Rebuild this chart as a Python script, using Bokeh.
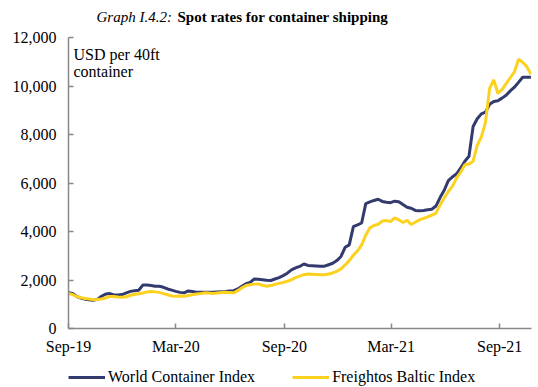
import datetime as dt
from bokeh.plotting import figure
from bokeh.layouts import column
from bokeh.models import (FixedTicker, Label, Legend, LegendItem, Range1d,
                          NumeralTickFormatter, DatetimeTickFormatter, ColumnDataSource)
from bokeh.embed import file_html
from bokeh.resources import INLINE

# ---- data (weekly) ----
start_date = dt.datetime(2019, 9, 1)

wci = [1480, 1440, 1320, 1250, 1210, 1180, 1160, 1200, 1330, 1420,
       1440, 1380, 1380, 1400, 1470, 1530, 1560, 1580, 1790, 1790,
       1770, 1740, 1740, 1700, 1630, 1580, 1530, 1490, 1470, 1550,
       1530, 1500, 1500, 1490, 1490, 1500, 1510, 1520, 1530, 1550,
       1560, 1630, 1740, 1850, 1900, 2040, 2030, 2010, 1990, 1980,
       2040, 2100, 2180, 2280, 2420, 2500, 2560, 2660, 2600, 2590,
       2580, 2570, 2570, 2630, 2690, 2800, 2970, 3350, 3450, 4200,
       4270, 4350, 5150, 5220, 5280, 5330, 5240, 5210, 5190, 5250,
       5230, 5110, 5000, 4960, 4870, 4860, 4870, 4900, 4920, 5050,
       5400, 5700, 6100, 6250, 6380, 6620, 6900, 7100, 8330, 8650,
       8850, 8920, 9250, 9360, 9390, 9500, 9620, 9800, 9950, 10150,
       10360, 10360, 10360]

fbx = [1440, 1400, 1320, 1270, 1240, 1220, 1190, 1200, 1220, 1260,
       1320, 1320, 1300, 1290, 1310, 1370, 1400, 1430, 1460, 1510,
       1530, 1510, 1490, 1440, 1390, 1340, 1330, 1340, 1330, 1360,
       1390, 1420, 1440, 1470, 1460, 1440, 1460, 1480, 1490, 1480,
       1470, 1560, 1680, 1770, 1800, 1830, 1840, 1780, 1740, 1770,
       1820, 1860, 1900, 1950, 2010, 2100, 2160, 2220, 2250, 2240,
       2230, 2220, 2220, 2250, 2290, 2360, 2460, 2620, 2800, 3020,
       3200, 3450, 3850, 4150, 4250, 4300, 4430, 4450, 4410, 4560,
       4480, 4370, 4460, 4290, 4380, 4480, 4540, 4600, 4670, 4760,
       5100, 5380, 5650, 5870, 6200, 6450, 6750, 6780, 6900, 7550,
       7900, 8500, 9900, 10250, 9700, 9850, 10100, 10340, 10580, 11100,
       10980, 10800, 10480]

dates = [start_date + dt.timedelta(weeks=i) for i in range(len(wci))]

tick_dates = [dt.datetime(2019, 9, 1), dt.datetime(2020, 3, 1), dt.datetime(2020, 9, 1),
              dt.datetime(2021, 3, 1), dt.datetime(2021, 9, 1)]
y_ticks = [0, 2000, 4000, 6000, 8000, 10000, 12000]

series_names = ["World Container Index", "Freightos Baltic Index"]
series_colors = ["#333b6e", "#fdd21f"]
title_italic = "Graph I.4.2:"
title_bold = "Spot rates for container shipping"
unit_lines = ["USD per 40ft", "container"]

FONT = "Liberation Serif"
W = 536


def ms(d):
    return (d - dt.datetime(1970, 1, 1)).total_seconds() * 1000.0


def blank_strip(height):
    f = figure(width=W, height=height, output_backend="svg", toolbar_location=None,
               x_axis_location=None, y_axis_location=None,
               min_border_left=0, min_border_right=0,
               min_border_top=0, min_border_bottom=0)
    f.x_range = Range1d(0, 1)
    f.y_range = Range1d(0, 1)
    f.outline_line_color = None
    f.xgrid.visible = False
    f.ygrid.visible = False
    return f


# ---- title strip (its frame is aligned with the main frame, left edge at x=68) ----
t = blank_strip(28)
t.add_layout(Label(x=28, y=12, x_units="screen", y_units="screen",
                   text=title_italic, text_font=FONT, text_font_size="15px",
                   text_font_style="italic", text_baseline="middle", text_color="black"))
t.add_layout(Label(x=109, y=12, x_units="screen", y_units="screen",
                   text=title_bold, text_font=FONT, text_font_size="15px",
                   text_font_style="bold", text_baseline="middle", text_color="black"))

# ---- main chart ----
src = ColumnDataSource(dict(date=dates, wci=wci, fbx=fbx))

p = figure(width=W, height=329, x_axis_type="datetime",
           output_backend="svg", toolbar_location=None,
           min_border_left=68, min_border_right=5,
           min_border_top=9, min_border_bottom=28)
p.x_range = Range1d(dt.datetime(2019, 9, 1), dt.datetime(2021, 10, 25))
p.y_range = Range1d(0, 12000)
p.outline_line_color = None
p.xgrid.visible = False
p.ygrid.visible = False

p.line("date", "wci", source=src, line_color=series_colors[0], line_width=3)
p.line("date", "fbx", source=src, line_color=series_colors[1], line_width=3)

for ax in (p.xaxis[0], p.yaxis[0]):
    ax.axis_line_color = "#888888"
    ax.axis_line_width = 1.5
    ax.major_tick_line_color = "#888888"
    ax.major_tick_line_width = 1.5
    ax.major_tick_in = 5
    ax.major_tick_out = 0
    ax.minor_tick_line_color = None
    ax.major_label_text_font = FONT
    ax.major_label_text_font_size = "16px"
    ax.major_label_text_color = "black"

p.xaxis[0].ticker = FixedTicker(ticks=[ms(d) for d in tick_dates])
fmt = "%b-%y"
p.xaxis[0].formatter = DatetimeTickFormatter(
    years=fmt, months=fmt, days=fmt, hours=fmt, minutes=fmt, seconds=fmt,
    milliseconds=fmt, microseconds=fmt, hourmin=fmt, minsec=fmt)
p.xaxis[0].major_label_standoff = 9

p.yaxis[0].ticker = FixedTicker(ticks=y_ticks)
p.yaxis[0].formatter = NumeralTickFormatter(format="0,0")
p.yaxis[0].major_label_standoff = 12

p.add_layout(Label(x=5, y=274, x_units="screen", y_units="screen",
                   text=unit_lines[0], text_font=FONT, text_font_size="16px",
                   text_baseline="middle", text_color="black"))
p.add_layout(Label(x=5, y=257, x_units="screen", y_units="screen",
                   text=unit_lines[1], text_font=FONT, text_font_size="16px",
                   text_baseline="middle", text_color="black"))

# ---- legend strip (legend-only renderers hold no drawable points) ----
lg = blank_strip(30)
items = []
for name, col in zip(series_names, series_colors):
    r = lg.line(x=[float("nan")], y=[float("nan")], line_color=col, line_width=3)
    items.append(LegendItem(label=name, renderers=[r]))
legend = Legend(items=items, orientation="horizontal", location=(0, 1),
                padding=0, margin=0, spacing=37, label_standoff=3,
                glyph_width=37, glyph_height=16, label_height=16,
                label_text_font=FONT, label_text_font_size="16px",
                label_text_color="black", border_line_color=None,
                background_fill_alpha=0)
lg.add_layout(legend, "center")

open("out.html", "w").write(file_html(column(t, p, lg, spacing=0), INLINE))
